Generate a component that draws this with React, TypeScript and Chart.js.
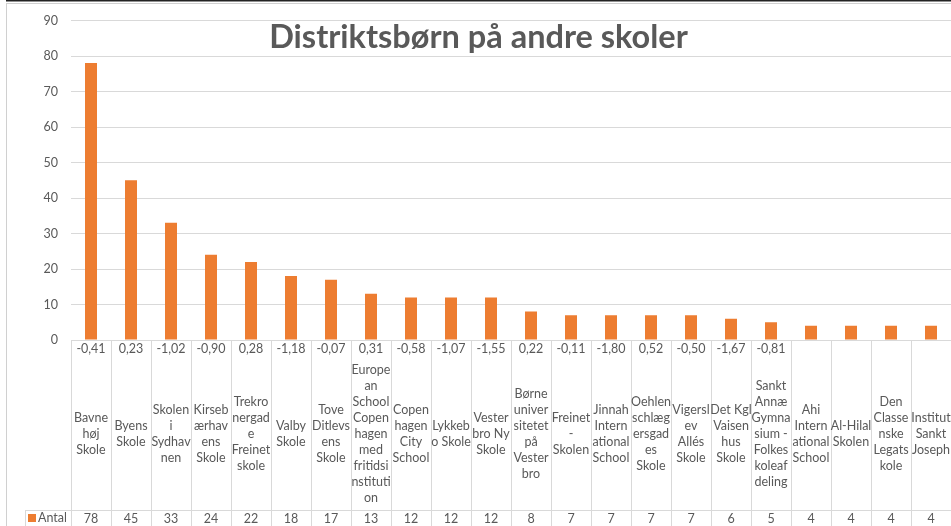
import React, { useEffect, useRef } from "react";
import { Chart, registerables } from "chart.js";

Chart.register(...registerables);

const TITLE = "Distriktsbørn på andre skoler";
const SERIES_NAME = "Antal";

const SCHOOL_LINES: string[][] = [
  ["Bavne", "høj", "Skole"],
  ["Byens", "Skole"],
  ["Skolen", "i", "Sydhav", "nen"],
  ["Kirseb", "ærhav", "ens", "Skole"],
  ["Trekro", "nergad", "e", "Freinet", "skole"],
  ["Valby", "Skole"],
  ["Tove", "Ditlevs", "ens", "Skole"],
  ["Europe", "an", "School", "Copen", "hagen", "med", "fritidsi", "nstituti", "on"],
  ["Copen", "hagen", "City", "School"],
  ["Lykkeb", "o Skole"],
  ["Vester", "bro Ny", "Skole"],
  ["Børne", "univer", "sitetet", "på", "Vester", "bro"],
  ["Freinet", "-", "Skolen"],
  ["Jinnah", "Intern", "ational", "School"],
  ["Oehlen", "schlæg", "ersgad", "es", "Skole"],
  ["Vigersl", "ev", "Allés", "Skole"],
  ["Det Kgl", "Vaisen", "hus", "Skole"],
  ["Sankt", "Annæ", "Gymna", "sium -", "Folkes", "koleaf", "deling"],
  ["Ahi", "Intern", "ational", "School"],
  ["Al-Hilal", "Skolen"],
  ["Den", "Classe", "nske", "Legats", "kole"],
  ["Institut", "Sankt", "Joseph"],
];

const INDEX_VALUES: (string | null)[] = [
  "-0,41", "0,23", "-1,02", "-0,90", "0,28", "-1,18", "-0,07", "0,31", "-0,58", "-1,07", "-1,55",
  "0,22", "-0,11", "-1,80", "0,52", "-0,50", "-1,67", "-0,81", null, null, null, null,
];

const COUNTS: number[] = [78, 45, 33, 24, 22, 18, 17, 13, 12, 12, 12, 8, 7, 7, 7, 7, 6, 5, 4, 4, 4, 4];

const Y_MIN = 0;
const Y_MAX = 90;
const Y_STEP = 10;

const BAR_COLOR = "#ED7D31";
const TEXT_COLOR = "#595959";
const GRID_COLOR = "#d9d9d9";
const FONT = "Lato, 'Open Sans', sans-serif";

const tablePlugin = {
  id: "dataTable",
  afterDraw(chart: any) {
    const ctx = chart.ctx as CanvasRenderingContext2D;
    const area = chart.chartArea;
    const x = chart.scales.x;
    const n = COUNTS.length;
    const colW = area.width / n;
    const H = chart.height;
    const W = chart.width;
    ctx.save();

    // outer frame
    ctx.strokeStyle = "#d0d0d0";
    ctx.lineWidth = 1;
    ctx.strokeRect(6.5, 3.5, W - 6, H);
    ctx.strokeStyle = "#222";
    ctx.lineWidth = 1.5;
    ctx.beginPath();
    ctx.moveTo(6, 0.75);
    ctx.lineTo(W, 0.75);
    ctx.stroke();

    // table grid
    const top = Math.round(area.bottom) + 0.5;
    const rowY = 510.5;
    ctx.strokeStyle = GRID_COLOR;
    ctx.lineWidth = 1;
    ctx.beginPath();
    ctx.moveTo(area.left, top);
    ctx.lineTo(area.right, top);
    ctx.moveTo(25, rowY);
    ctx.lineTo(area.right, rowY);
    ctx.moveTo(25.5, rowY);
    ctx.lineTo(25.5, H);
    for (let i = 0; i <= n; i++) {
      const px = Math.round(x.getPixelForValue(0) - colW / 2 + i * colW) + 0.5;
      ctx.moveTo(px, top);
      ctx.lineTo(px, H);
    }
    ctx.stroke();

    ctx.fillStyle = TEXT_COLOR;
    ctx.font = `12.5px ${FONT}`;
    ctx.textAlign = "center";
    ctx.textBaseline = "middle";
    const lineH = 16;
    const centerY = 434;
    for (let i = 0; i < n; i++) {
      const cx = x.getPixelForValue(i);
      const v = INDEX_VALUES[i];
      if (v) ctx.fillText(v, cx, 349);
      const lines = SCHOOL_LINES[i];
      const startY = centerY - ((lines.length - 1) * lineH) / 2;
      lines.forEach((l, j) => ctx.fillText(l, cx, startY + j * lineH));
      ctx.fillText(String(COUNTS[i]), cx, 519);
    }

    // legend key
    ctx.fillStyle = BAR_COLOR;
    ctx.fillRect(28, 514, 8, 8);
    ctx.fillStyle = TEXT_COLOR;
    ctx.textAlign = "left";
    ctx.fillText(SERIES_NAME, 38, 518);

    // title
    ctx.font = `bold 32.5px ${FONT}`;
    ctx.textAlign = "center";
    ctx.textBaseline = "alphabetic";
    ctx.fillText(TITLE, W / 2 + 3, 48);
    ctx.restore();
  },
};

export default function App() {
  const ref = useRef<HTMLCanvasElement | null>(null);
  useEffect(() => {
    document.body.style.margin = "0";
    const canvas = ref.current;
    if (!canvas) return;
    const chart = new Chart(canvas, {
      type: "bar",
      data: {
        labels: SCHOOL_LINES.map((l) => l.join(" ")),
        datasets: [
          {
            label: SERIES_NAME,
            data: COUNTS,
            backgroundColor: BAR_COLOR,
            barPercentage: 0.3,
            categoryPercentage: 1,
          },
        ],
      },
      options: {
        animation: false,
        responsive: false,
        layout: { padding: { top: 11, bottom: 186, left: 0, right: 0 } },
        plugins: { legend: { display: false }, tooltip: { enabled: false }, title: { display: false } },
        scales: {
          x: { display: false, offset: true },
          y: {
            min: Y_MIN,
            max: Y_MAX,
            border: { display: false },
            grid: { color: GRID_COLOR, drawTicks: false },
            ticks: {
              stepSize: Y_STEP,
              padding: 13,
              color: TEXT_COLOR,
              font: { family: FONT, size: 12.5 },
            },
            afterFit: (s: any) => {
              s.width = 71;
            },
          },
        },
      },
      plugins: [tablePlugin],
    });
    return () => chart.destroy();
  }, []);
  return (
    <div style={{ width: 951, height: 526, background: "#fff" }}>
      <canvas ref={ref} width={951} height={526} />
    </div>
  );
}
